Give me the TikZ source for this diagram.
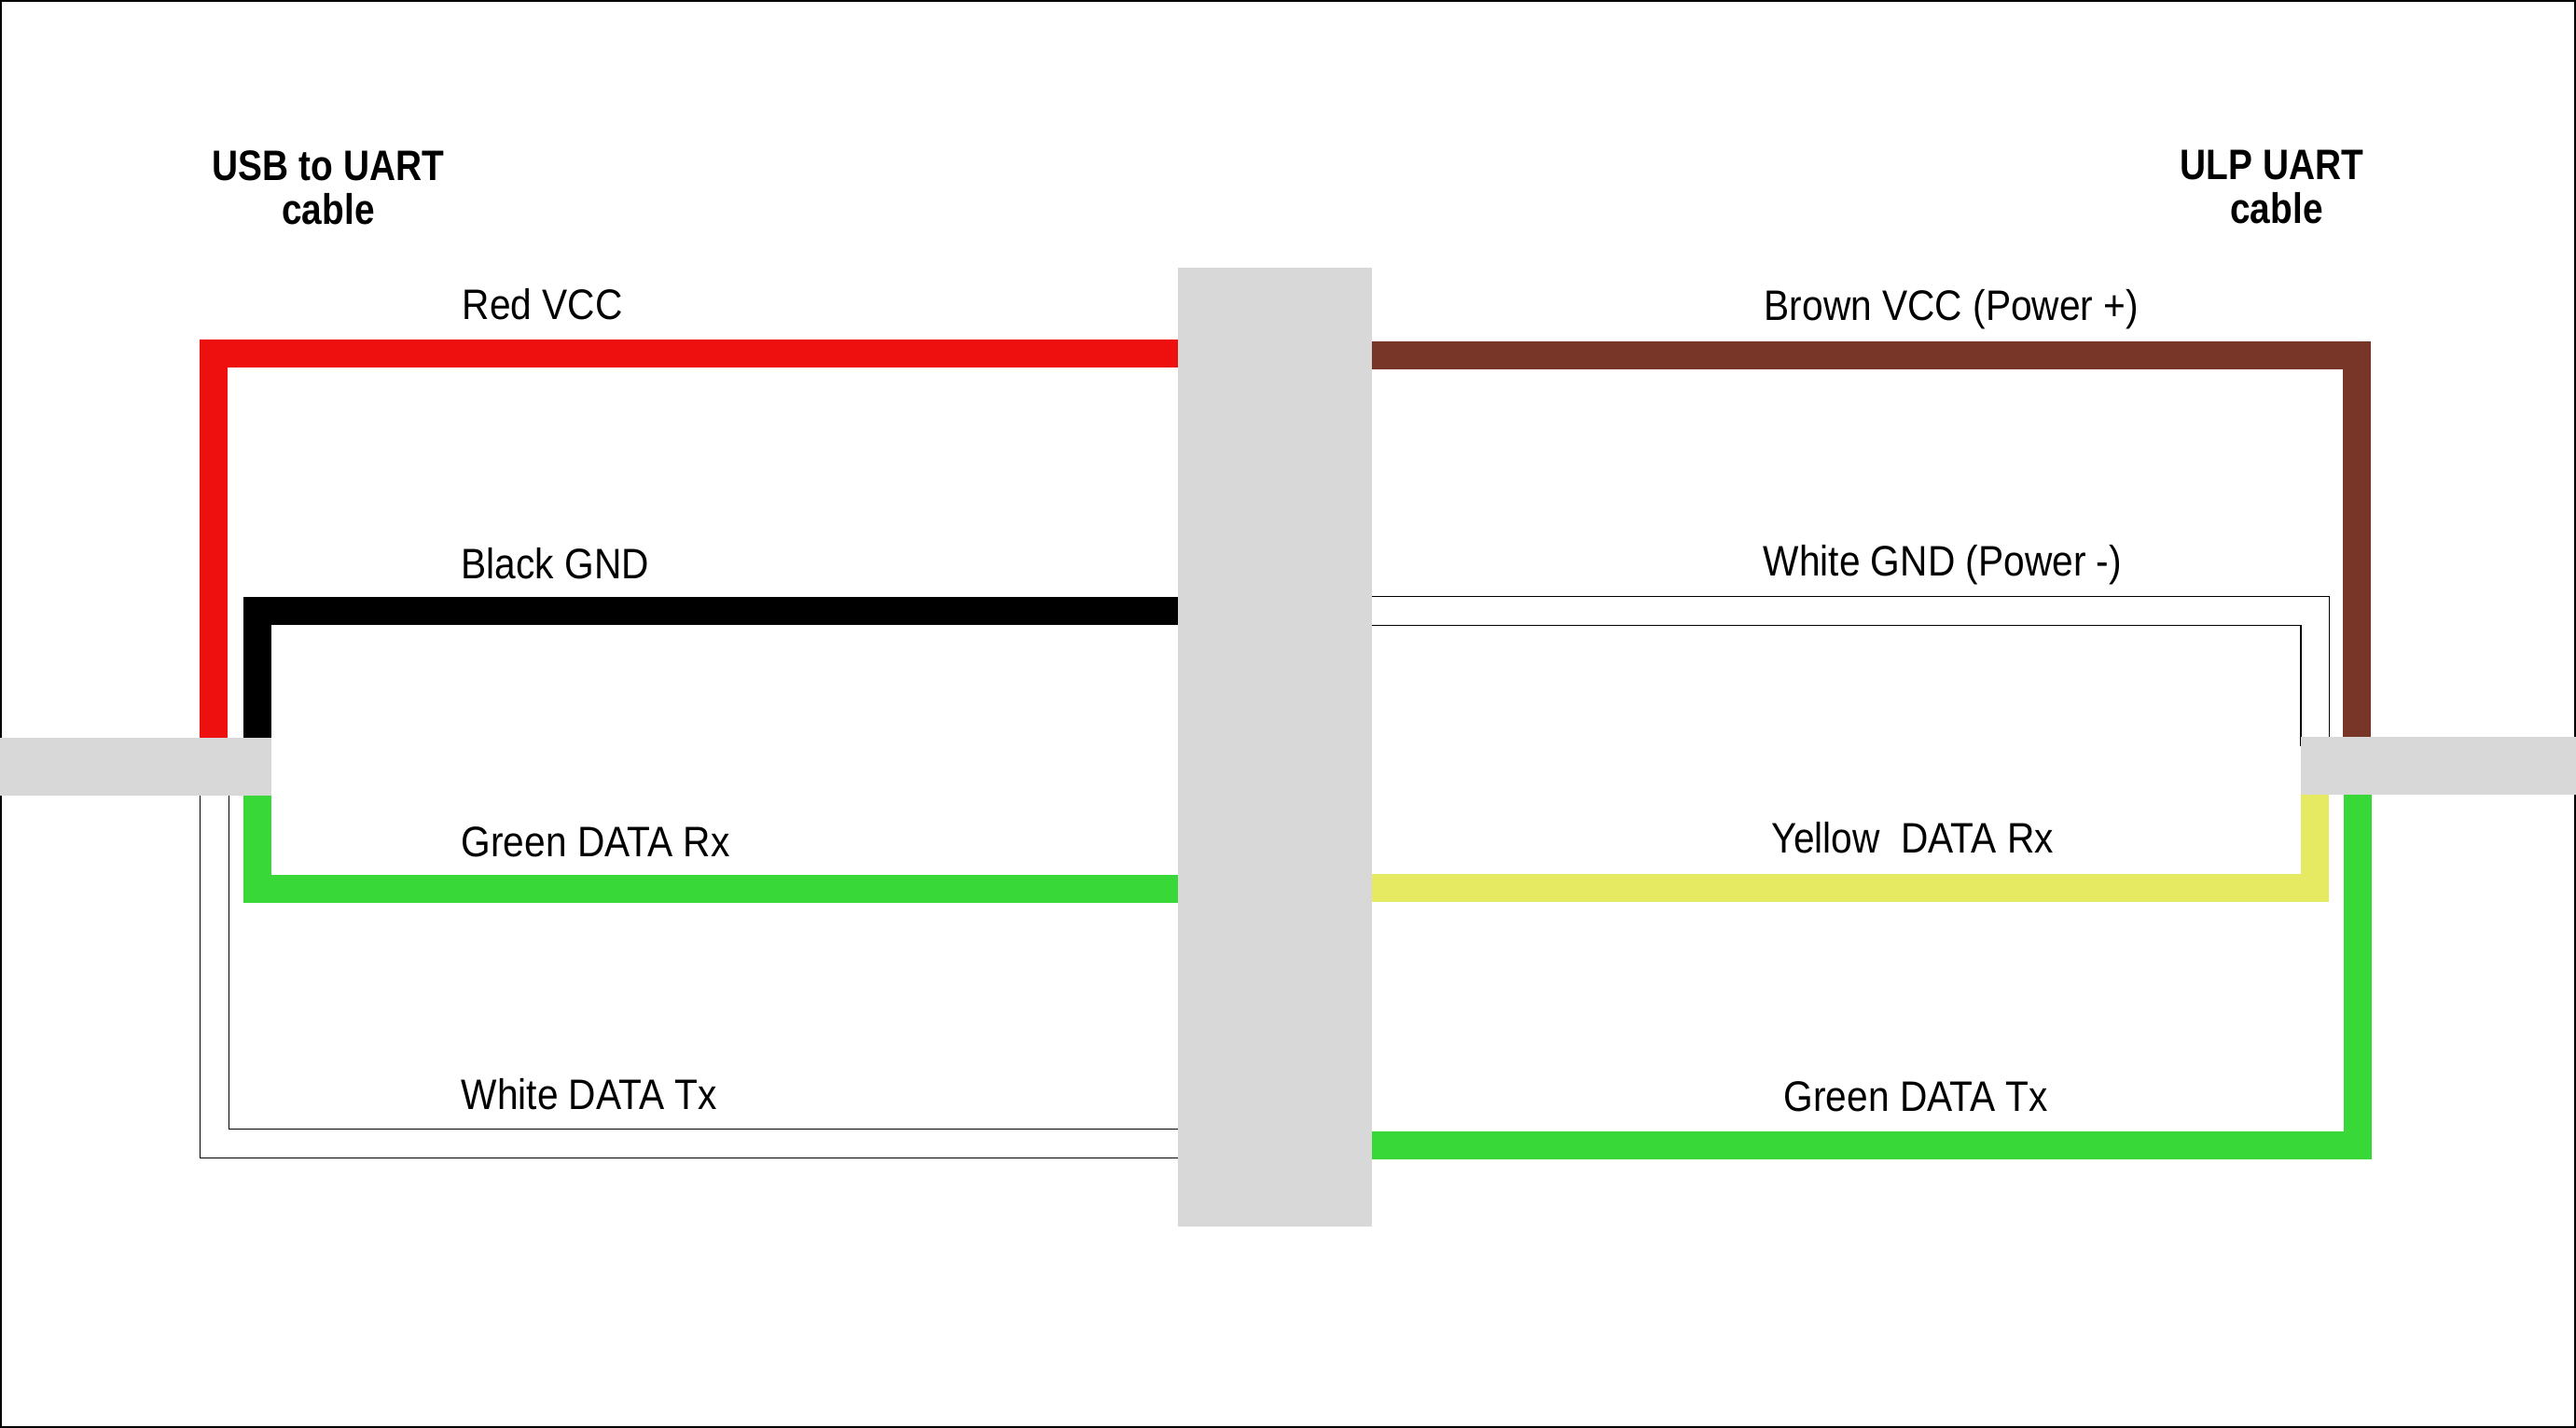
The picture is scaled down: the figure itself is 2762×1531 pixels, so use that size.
\documentclass[tikz,border=0pt]{standalone}
\usepackage{fontspec}
\setmainfont{Liberation Sans}
\definecolor{wred}{HTML}{EE0F0F}
\definecolor{wbrown}{HTML}{783628}
\definecolor{wgreen}{HTML}{37D837}
\definecolor{wyellow}{HTML}{E6EA62}
\definecolor{hubgray}{HTML}{D8D8D8}
\newcommand{\lblsq}[1]{\scalebox{0.89}[1]{#1}}
\newcommand{\ttlsq}[1]{\scalebox{0.85}[1]{#1}}
\begin{document}
\begin{tikzpicture}[x=0.01cm,y=-0.01cm,
  wire/.style={line width=0.3cm,line join=miter,line cap=butt},
  whiteout/.style={line width=0.32cm,line join=miter,draw=black},
  whitein/.style={line width=0.29cm,line join=miter,draw=white},
  grayblock/.style={fill=hubgray,draw=none,inner sep=0pt,outer sep=0pt,anchor=north west},
  lbl/.style={anchor=base west,inner sep=0pt,font=\fontsize{13}{15.6}\selectfont},
  ttl/.style={anchor=base,inner sep=0pt,font=\fontsize{13}{15.6}\selectfont\bfseries}]
\useasboundingbox (0,0) rectangle (2762,1531);
\fill[white] (0,0) rectangle (2762,1531);
\draw[black,line width=0.025cm] (1,1) rectangle (2761,1530);

% wire end coordinates (left side)
\coordinate (rA) at (1270,379); \coordinate (rB) at (229,379); \coordinate (rC) at (229,800);
\coordinate (kA) at (1270,655); \coordinate (kB) at (276,655); \coordinate (kC) at (276,800);
\coordinate (gA) at (276,845);  \coordinate (gB) at (276,953); \coordinate (gC) at (1270,953);
\coordinate (tA) at (230,845);  \coordinate (tB) at (230,1226); \coordinate (tC) at (1270,1226);
% wire end coordinates (right side)
\coordinate (bA) at (1465,381); \coordinate (bB) at (2527,381); \coordinate (bC) at (2527,800);
\coordinate (wA) at (1465,655); \coordinate (wB) at (2482,655); \coordinate (wC) at (2482,800);
\coordinate (yA) at (2482,845); \coordinate (yB) at (2482,952); \coordinate (yC) at (1465,952);
\coordinate (sA) at (2528,845); \coordinate (sB) at (2528,1228); \coordinate (sC) at (1465,1228);

% left wires
\draw[wire,wred] (rA) -- (rB) -- (rC);
\draw[wire,black] (kA) -- (kB) -- (kC);
\draw[wire,wgreen] (gA) -- (gB) -- (gC);
\draw[whiteout] (tA) -- (tB) -- (tC);
\draw[whitein] (tA) -- (tB) -- (tC);
% right wires
\draw[wire,wbrown] (bA) -- (bB) -- (bC);
\draw[whiteout] (wA) -- (wB) -- (wC);
\draw[whitein] (wA) -- (wB) -- (wC);
\draw[wire,wyellow] (yA) -- (yB) -- (yC);
\draw[wire,wgreen] (sA) -- (sB) -- (sC);

% gray connector block and cable sleeves
\node[grayblock,minimum width=2.08cm,minimum height=10.27cm] (hub) at (1263,287) {};
\node[grayblock,minimum width=2.91cm,minimum height=0.62cm] (sleeveL) at (0,791) {};
\node[grayblock,minimum width=2.95cm,minimum height=0.62cm] (sleeveR) at (2467,790) {};

% titles
\node[ttl] (t1a) at (352,194) {\ttlsq{USB to UART}};
\node[ttl] (t1b) at (352,241) {\ttlsq{cable}};
\node[ttl] (t2a) at (2436,193) {\ttlsq{ULP UART}};
\node[ttl] (t2b) at (2441,240) {\ttlsq{cable}};

% labels
\node[lbl] (l1) at (495,343) {\lblsq{Red VCC}};
\node[lbl] (l2) at (494,621) {\lblsq{Black GND}};
\node[lbl] (l3) at (494,919) {\lblsq{Green DATA Rx}};
\node[lbl] (l4) at (494,1190) {\lblsq{White DATA Tx}};
\node[lbl] (r1) at (1891,344) {\lblsq{Brown VCC (Power +)}};
\node[lbl] (r2) at (1890,618) {\lblsq{White GND (Power -)}};
\node[lbl] (r3) at (1899,915) {\lblsq{Yellow\ \ DATA Rx}};
\node[lbl] (r4) at (1912,1192) {\lblsq{Green DATA Tx}};
\end{tikzpicture}
\end{document}
